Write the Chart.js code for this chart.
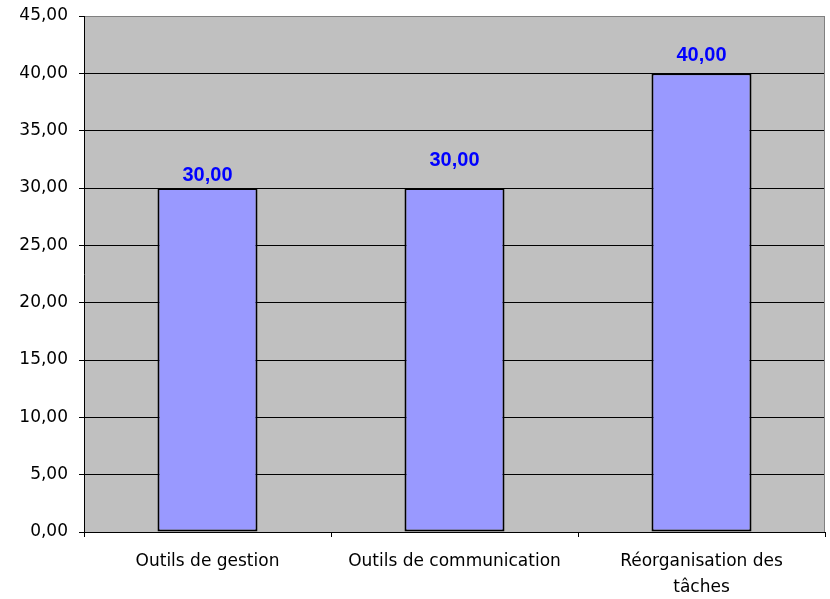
<!DOCTYPE html>
<html>
<head>
<meta charset="utf-8">
<script src="https://cdn.jsdelivr.net/npm/chart.js@4.4.1/dist/chart.umd.min.js"></script>
<style>
  html, body { margin: 0; padding: 0; background: #fff; }
  #wrap { width: 830px; height: 599px; }
</style>
</head>
<body>
<div id="wrap"><canvas id="chart" width="830" height="599"></canvas></div>
<script>
// categories and values
const categories = [
  ['Outils de gestion'],
  ['Outils de communication'],
  ['Réorganisation des', 'tâches']
];
const values = [30, 30, 40];
const yTicks = [0, 5, 10, 15, 20, 25, 30, 35, 40, 45];

// how far above each bar top its label sits (the original is uneven)
const labelRaise = [13, 28, 18];

const fmt = v => v.toFixed(2).replace('.', ',');

const plotBackground = {
  id: 'plotBackground',
  beforeDraw(chart) {
    const { ctx, chartArea: a } = chart;
    ctx.save();
    ctx.fillStyle = '#c0c0c0';
    ctx.fillRect(a.left, a.top, a.right - a.left, a.bottom - a.top);
    ctx.restore();
  },
  afterDraw(chart) {
    const { ctx, chartArea: a } = chart;
    ctx.save();
    ctx.strokeStyle = '#808080';
    ctx.lineWidth = 1;
    ctx.beginPath();
    ctx.moveTo(a.right - 0.5, a.top);
    ctx.lineTo(a.right - 0.5, a.bottom);
    ctx.stroke();
    ctx.restore();
  }
};

const valueLabels = {
  id: 'valueLabels',
  afterDatasetsDraw(chart) {
    const { ctx } = chart;
    const meta = chart.getDatasetMeta(0);
    ctx.save();
    ctx.fillStyle = '#0000ff';
    ctx.font = 'bold 20px "Liberation Sans", Arial, sans-serif';
    ctx.textAlign = 'center';
    ctx.textBaseline = 'middle';
    meta.data.forEach((bar, i) => {
      ctx.fillText(fmt(values[i]), bar.x, bar.y - labelRaise[i]);
    });
    ctx.restore();
  }
};

new Chart(document.getElementById('chart'), {
  type: 'bar',
  data: {
    labels: categories,
    datasets: [{
      data: values,
      backgroundColor: '#9999ff',
      borderColor: '#000000',
      borderWidth: 2,
      borderSkipped: false,
      categoryPercentage: 1,
      barPercentage: 0.405
    }]
  },
  options: {
    responsive: false,
    animation: false,
    layout: { padding: { top: 16, right: 5, left: 0, bottom: 0 } },
    plugins: {
      legend: { display: false },
      tooltip: { enabled: false }
    },
    scales: {
      x: {
        grid: {
          offset: true,
          drawOnChartArea: false,
          drawTicks: true,
          tickLength: 5,
          tickColor: '#000'
        },
        border: { color: '#000', width: 1 },
        ticks: {
          color: '#000',
          padding: 12,
          maxRotation: 0,
          font: { family: '"DejaVu Sans", sans-serif', size: 17, lineHeight: 1.5 }
        },
        afterFit(scale) {
          scale.height = 67;
          scale.paddingLeft = 0;
          scale.paddingRight = 0;
        }
      },
      y: {
        min: 0,
        max: 45,
        afterBuildTicks(scale) { scale.ticks = yTicks.map(v => ({ value: v })); },
        grid: {
          color: ctx => (ctx.tick && ctx.tick.value === 45 ? '#808080' : '#000'),
          lineWidth: 1,
          drawTicks: true,
          tickLength: 5,
          tickColor: '#000'
        },
        border: { color: '#000', width: 1 },
        ticks: {
          color: '#000',
          padding: 11,
          callback: v => fmt(v),
          font: { family: '"DejaVu Sans", sans-serif', size: 17 }
        },
        afterFit(scale) {
          scale.width = 84;
          scale.paddingTop = 0;
          scale.paddingBottom = 0;
        }
      }
    }
  },
  plugins: [plotBackground, valueLabels]
});
</script>
</body>
</html>
